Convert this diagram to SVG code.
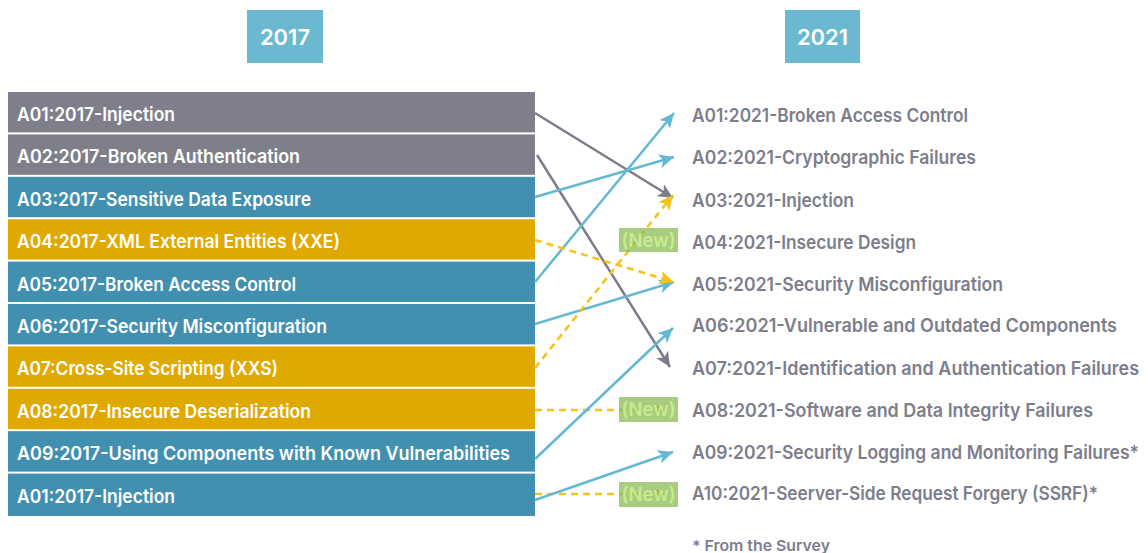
<svg xmlns="http://www.w3.org/2000/svg" width="1148" height="553" viewBox="0 0 1148 553">
  <style>
    .hdr { fill: #6ab9d0; }
    .hdr-t { fill: #ffffff; font-family: "Inter", "Lato", "Liberation Sans", sans-serif; font-weight: 600; font-size: 22px; text-anchor: middle; }
    .row-t { fill: #ffffff; font-family: "Inter", "Lato", "Liberation Sans", sans-serif; font-weight: 600; font-size: 19px; }
    .new-t { fill: #c6ec90; font-family: "Inter", "Lato", "Liberation Sans", sans-serif; font-weight: 600; font-size: 19px; text-anchor: middle; }
    .item-t { fill: #7d7e8b; font-family: "Inter", "Lato", "Liberation Sans", sans-serif; font-weight: 600; font-size: 19px; }
    .note-t { fill: #7d7e8b; font-family: "Inter", "Lato", "Liberation Sans", sans-serif; font-weight: 600; font-size: 15px; }
    .gray { fill: #7f7f8b; }
    .teal { fill: #4290b0; }
    .gold { fill: #dfa900; }
    .badge { fill: #8dbb55; opacity: 0.75; }
    .ln-gray { stroke: #7c7d8a; stroke-width: 2.5; fill: none; }
    .ln-teal { stroke: #63b9d2; stroke-width: 2.5; fill: none; }
    .ln-gold { stroke: #f7c21a; stroke-width: 2.5; fill: none; stroke-dasharray: 7 5; }
  </style>
  <defs>
    <marker id="ah-gray" markerUnits="userSpaceOnUse" markerWidth="16" markerHeight="14" refX="15" refY="7" orient="auto">
      <path d="M0,0 L15,7 L0,14 L4,7 z" fill="#7c7d8a"/>
    </marker>
    <marker id="ah-teal" markerUnits="userSpaceOnUse" markerWidth="16" markerHeight="14" refX="15" refY="7" orient="auto">
      <path d="M0,0 L15,7 L0,14 L4,7 z" fill="#63b9d2"/>
    </marker>
    <marker id="ah-gold" markerUnits="userSpaceOnUse" markerWidth="16" markerHeight="14" refX="15" refY="7" orient="auto">
      <path d="M0,0 L15,7 L0,14 L4,7 z" fill="#f7c21a"/>
    </marker>
    <marker id="ah-gold-s" markerUnits="userSpaceOnUse" markerWidth="10" markerHeight="10" refX="9" refY="5" orient="auto">
      <path d="M0,0 L9,5 L0,10 L3,5 z" fill="#b58a00"/>
    </marker>
  </defs>

  <rect width="1148" height="553" fill="#ffffff"/>

  <!-- column headers -->
  <g id="hdr-2017">
    <rect class="hdr" x="247" y="10" width="76" height="53"/>
    <text class="hdr-t" x="285" y="44.5">2017</text>
  </g>
  <g id="hdr-2021">
    <rect class="hdr" x="785" y="10" width="75" height="53"/>
    <text class="hdr-t" x="822.5" y="44.5">2021</text>
  </g>

  <!-- 2017 list -->
  <g id="l01"><rect class="gray" x="8" y="92" width="527" height="40.4"/><text class="row-t" x="17" y="121" textLength="158" lengthAdjust="spacingAndGlyphs">A01:2017-Injection</text></g>
  <g id="l02"><rect class="gray" x="8" y="134.4" width="527" height="40.4"/><text class="row-t" x="17" y="163.4" textLength="283" lengthAdjust="spacingAndGlyphs">A02:2017-Broken Authentication</text></g>
  <g id="l03"><rect class="teal" x="8" y="176.8" width="527" height="40.4"/><text class="row-t" x="17" y="205.8" textLength="294" lengthAdjust="spacingAndGlyphs">A03:2017-Sensitive Data Exposure</text></g>
  <g id="l04"><rect class="gold" x="8" y="219.2" width="527" height="40.4"/><text class="row-t" x="17" y="248.2" textLength="323" lengthAdjust="spacingAndGlyphs">A04:2017-XML External Entities (XXE)</text></g>
  <g id="l05"><rect class="teal" x="8" y="261.6" width="527" height="40.4"/><text class="row-t" x="17" y="290.6" textLength="279" lengthAdjust="spacingAndGlyphs">A05:2017-Broken Access Control</text></g>
  <g id="l06"><rect class="teal" x="8" y="304" width="527" height="40.4"/><text class="row-t" x="17" y="333" textLength="310" lengthAdjust="spacingAndGlyphs">A06:2017-Security Misconfiguration</text></g>
  <g id="l07"><rect class="gold" x="8" y="346.4" width="527" height="40.4"/><text class="row-t" x="17" y="375.4" textLength="261" lengthAdjust="spacingAndGlyphs">A07:Cross-Site Scripting (XXS)</text></g>
  <g id="l08"><rect class="gold" x="8" y="388.8" width="527" height="40.4"/><text class="row-t" x="17" y="417.8" textLength="294" lengthAdjust="spacingAndGlyphs">A08:2017-Insecure Deserialization</text></g>
  <g id="l09"><rect class="teal" x="8" y="431.2" width="527" height="40.4"/><text class="row-t" x="17" y="460.2" textLength="493" lengthAdjust="spacingAndGlyphs">A09:2017-Using Components with Known Vulnerabilities</text></g>
  <g id="l10"><rect class="teal" x="8" y="473.6" width="527" height="42.4"/><text class="row-t" x="17" y="502.6" textLength="158" lengthAdjust="spacingAndGlyphs">A01:2017-Injection</text></g>

  <!-- mappings -->
  <g id="connectors">
    <line class="ln-gray" x1="535" y1="113" x2="673" y2="198" marker-end="url(#ah-gray)"/>
    <line class="ln-gray" x1="537" y1="155" x2="670" y2="367" marker-end="url(#ah-gray)"/>
    <line class="ln-teal" x1="535" y1="197" x2="674" y2="157" marker-end="url(#ah-teal)"/>
    <line class="ln-teal" x1="535" y1="282" x2="674" y2="113" marker-end="url(#ah-teal)"/>
    <line class="ln-teal" x1="535" y1="324" x2="674" y2="282" marker-end="url(#ah-teal)"/>
    <line class="ln-gold" x1="535" y1="240" x2="674" y2="282" marker-end="url(#ah-gold)"/>
    <line class="ln-gold" x1="535" y1="368" x2="673" y2="195" marker-end="url(#ah-gold)"/>
    <line class="ln-gold" x1="535" y1="410" x2="665" y2="410" marker-end="url(#ah-gold-s)"/>
    <line class="ln-teal" x1="535" y1="459" x2="673" y2="328" marker-end="url(#ah-teal)"/>
    <line class="ln-gold" x1="535" y1="494" x2="665" y2="494" marker-end="url(#ah-gold-s)"/>
    <line class="ln-teal" x1="535" y1="500" x2="673" y2="452" marker-end="url(#ah-teal)"/>
  </g>

  <!-- new-category badges -->
  <g id="new-a04"><rect class="badge" x="619" y="228" width="59" height="24"/><text class="new-t" x="648.5" y="246.5" textLength="54" lengthAdjust="spacingAndGlyphs">(New)</text></g>
  <g id="new-a08"><rect class="badge" x="619" y="397" width="59" height="25"/><text class="new-t" x="648.5" y="416" textLength="54" lengthAdjust="spacingAndGlyphs">(New)</text></g>
  <g id="new-a10"><rect class="badge" x="619" y="482" width="59" height="25"/><text class="new-t" x="648.5" y="501" textLength="54" lengthAdjust="spacingAndGlyphs">(New)</text></g>

  <!-- 2021 list -->
  <g id="r01"><text class="item-t" x="692" y="121.5" textLength="276" lengthAdjust="spacingAndGlyphs">A01:2021-Broken Access Control</text></g>
  <g id="r02"><text class="item-t" x="692" y="163.5" textLength="284" lengthAdjust="spacingAndGlyphs">A02:2021-Cryptographic Failures</text></g>
  <g id="r03"><text class="item-t" x="692" y="206.5" textLength="162" lengthAdjust="spacingAndGlyphs">A03:2021-Injection</text></g>
  <g id="r04"><text class="item-t" x="692" y="248.5" textLength="224" lengthAdjust="spacingAndGlyphs">A04:2021-Insecure Design</text></g>
  <g id="r05"><text class="item-t" x="692" y="290.5" textLength="311" lengthAdjust="spacingAndGlyphs">A05:2021-Security Misconfiguration</text></g>
  <g id="r06"><text class="item-t" x="692" y="331.5" textLength="425" lengthAdjust="spacingAndGlyphs">A06:2021-Vulnerable and Outdated Components</text></g>
  <g id="r07"><text class="item-t" x="692" y="374.5" textLength="447" lengthAdjust="spacingAndGlyphs">A07:2021-Identification and Authentication Failures</text></g>
  <g id="r08"><text class="item-t" x="692" y="416.5" textLength="401" lengthAdjust="spacingAndGlyphs">A08:2021-Software and Data Integrity Failures</text></g>
  <g id="r09"><text class="item-t" x="692" y="458.5" textLength="447" lengthAdjust="spacingAndGlyphs">A09:2021-Security Logging and Monitoring Failures*</text></g>
  <g id="r10"><text class="item-t" x="692" y="499.5" textLength="406" lengthAdjust="spacingAndGlyphs">A10:2021-Seerver-Side Request Forgery (SSRF)*</text></g>

  <text class="note-t" x="692" y="551" textLength="138" lengthAdjust="spacingAndGlyphs">* From the Survey</text>
</svg>
